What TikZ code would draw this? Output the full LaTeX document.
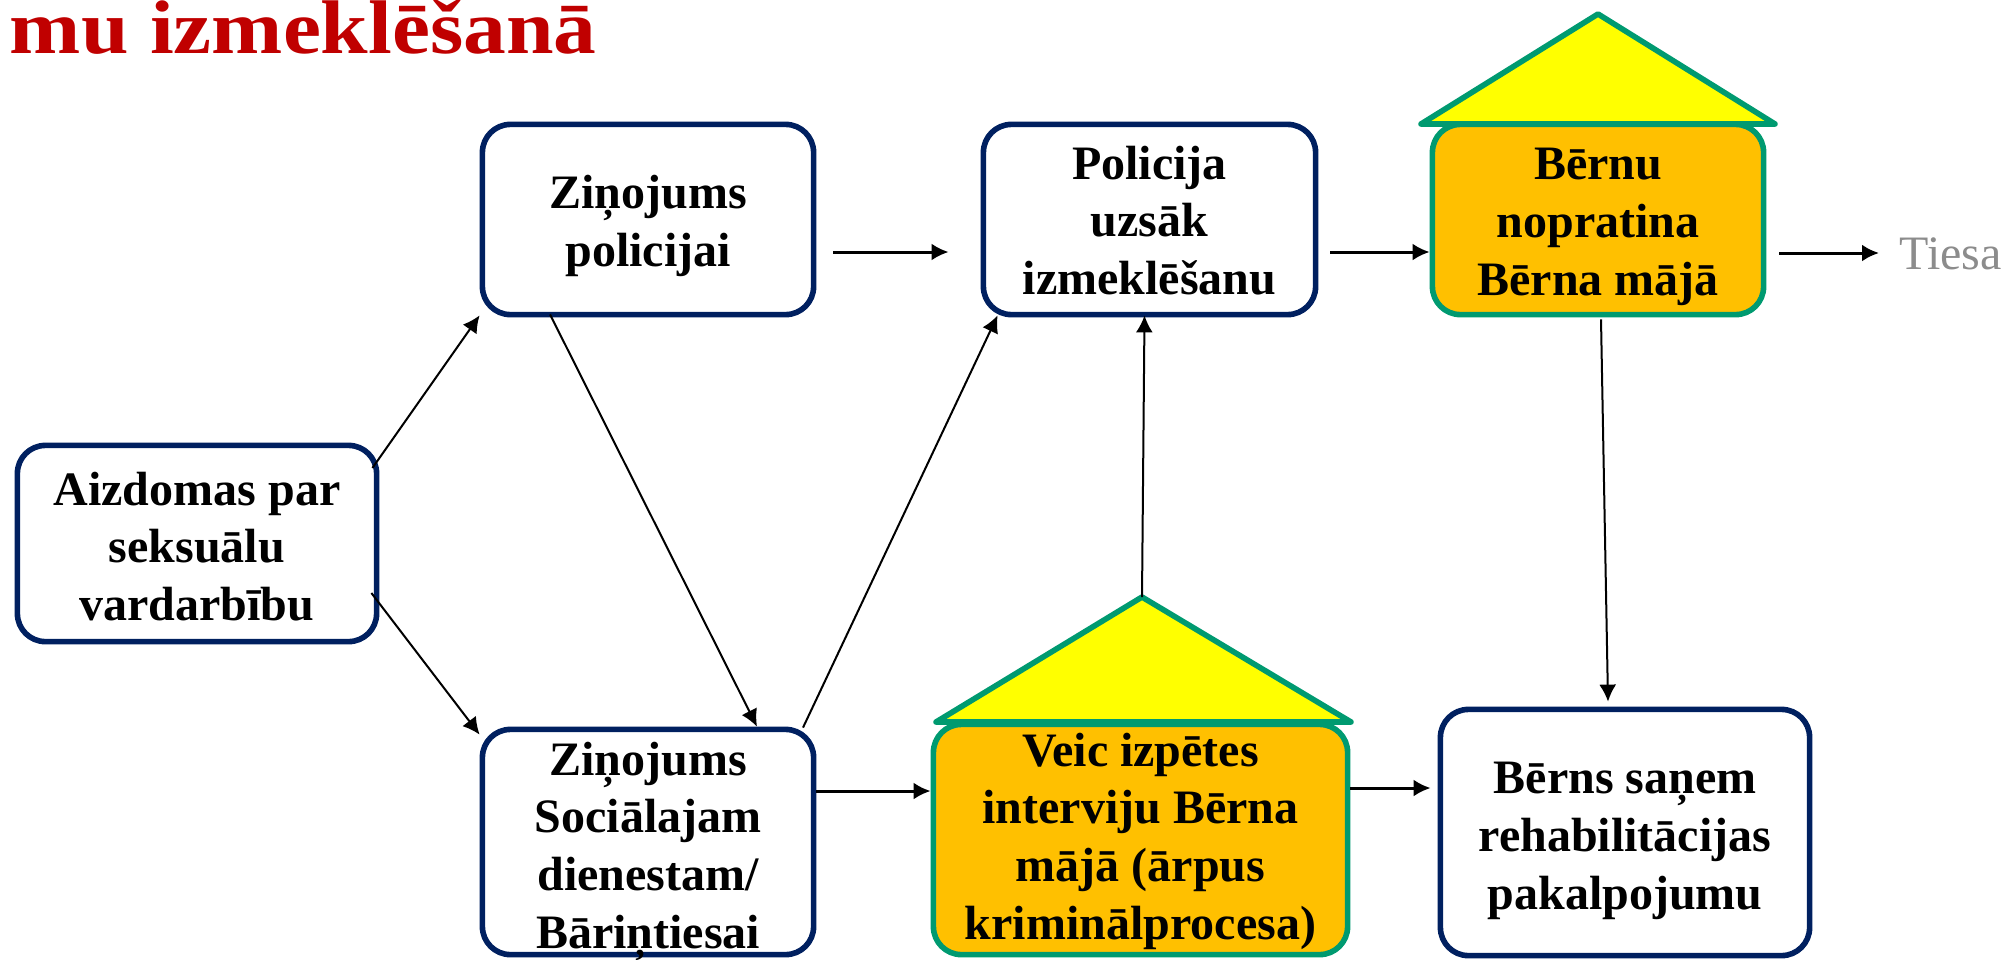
\documentclass[tikz,border=0pt]{standalone}
\usepackage{fontspec}
\setmainfont{Liberation Serif}
\usetikzlibrary{arrows.meta}
\definecolor{boxnavy}{HTML}{002060}
\definecolor{housegreen}{HTML}{009A70}
\definecolor{houseorange}{HTML}{FFC000}
\definecolor{roofyellow}{RGB}{255,255,0}
\definecolor{titlered}{HTML}{C00000}
\definecolor{courtgray}{HTML}{8C8C8C}
\tikzstyle{plainbox} = [draw=boxnavy, line width=2.8pt, fill=white, rounded corners=14pt, align=center, inner sep=0pt, text depth=0pt, font=\bfseries\fontsize{24}{28.8}\selectfont]
\tikzstyle{housebox} = [plainbox, draw=housegreen, fill=houseorange]
\tikzstyle{roof} = [draw=housegreen, fill=roofyellow, line width=2.8pt, line join=round]
\tikzstyle{thinlink} = [-{Latex[length=8.5pt,width=8.5pt]}, line width=1pt]
\tikzstyle{thicklink} = [-{Latex[length=8.5pt,width=8.5pt]}, line width=1.5pt]

\begin{document}
\begin{tikzpicture}[x=0.5pt, y=-0.5pt]
    \useasboundingbox (0, 0) rectangle (2006, 959);

    % Title, cut by the left edge
    \node (title) [anchor=base east, inner sep=0pt, text=titlered, xscale=1.125, transform shape, font=\bfseries\fontsize{38}{45}\selectfont] at (597, 53) {mu izmeklēšanā};

    % Boxes of the upper row
    \node (zinpol) [plainbox, minimum width=165.6pt, minimum height=95.1pt, text height=47pt] at (648, 219.5) {Ziņojums\\policijai};
    \node (policija) [plainbox, minimum width=166.1pt, minimum height=95.1pt, text height=75pt] at (1149.5, 219.5) {Policija\\uzsāk\\izmeklēšanu};
    \node (bernu) [housebox, minimum width=165.6pt, minimum height=95.1pt, text height=75.5pt] at (1598, 219.5) {Bērnu\\nopratina\\Bērna mājā};
    \node (tiesa) [anchor=base west, inner sep=0pt, text=courtgray, font=\fontsize{24}{28.8}\selectfont] at (1899, 269) {Tiesa};

    % Boxes of the lower rows
    \node (aizdomas) [plainbox, minimum width=179.6pt, minimum height=98.1pt, text height=77pt] at (197, 543.5) {Aizdomas par\\seksuālu\\vardarbību};
    \node (zinsoc) [plainbox, minimum width=165.6pt, minimum height=112.6pt, text height=106pt] at (648, 842) {Ziņojums\\Sociālajam\\dienestam/\\Bāriņtiesai};
    \node (veic) [housebox, minimum width=207.1pt, minimum height=115.1pt, text height=99.5pt] at (1140.5, 839.5) {Veic izpētes\\interviju Bērna\\mājā (ārpus\\kriminālprocesa)};
    \node (berns) [plainbox, minimum width=184.6pt, minimum height=123.1pt, text height=76.5pt] at (1625, 832.5) {Bērns saņem\\rehabilitācijas\\pakalpojumu};

    % The two roofs
    \coordinate (roofb) at (1598, 14);
    \draw [roof] (roofb) -- (1775, 124) -- (1421, 124) -- cycle;
    \coordinate (roofv) at (1142, 597);
    \draw [roof] (roofv) -- (1351, 722) -- (936, 722) -- cycle;

    % Arrows between the boxes
    \draw [thinlink] ([shift={(-7, -75.5)}]aizdomas.east) -- ([shift={(0, -2)}]zinpol.south west);
    \draw [thinlink] ([shift={(-8, 49.5)}]aizdomas.east) -- ([shift={(0, 8)}]zinsoc.north west);
    \draw [thinlink] ([shift={(-98, -3)}]zinpol.south) -- ([shift={(109, 0)}]zinsoc.north);
    \draw [thinlink] ([shift={(155, 1)}]zinsoc.north) -- ([shift={(17, -2)}]policija.south west);
    \draw [thicklink] ([shift={(17, 32.5)}]zinpol.east) -- ([shift={(-32, 32.5)}]policija.west);
    \draw [thicklink] ([shift={(12, 32.5)}]policija.east) -- ([shift={(0, 32.5)}]bernu.west);
    \draw [thicklink] ([shift={(13, 33.5)}]bernu.east) -- ([shift={(-20, -16)}]tiesa.base west);
    \draw [thicklink] (zinsoc.east |- 0, 791) -- (veic.west |- 0, 791);
    \draw [thicklink] (veic.east |- 0, 788) -- ([shift={(-7, 0)}]berns.west |- 0, 788);
    \draw [thinlink] (roofv) -- ([shift={(-5, -2)}]policija.south);
    \draw [thinlink] ([shift={(3, 2)}]bernu.south) -- ([shift={(-17, -5)}]berns.north);

\end{tikzpicture}
\end{document}
